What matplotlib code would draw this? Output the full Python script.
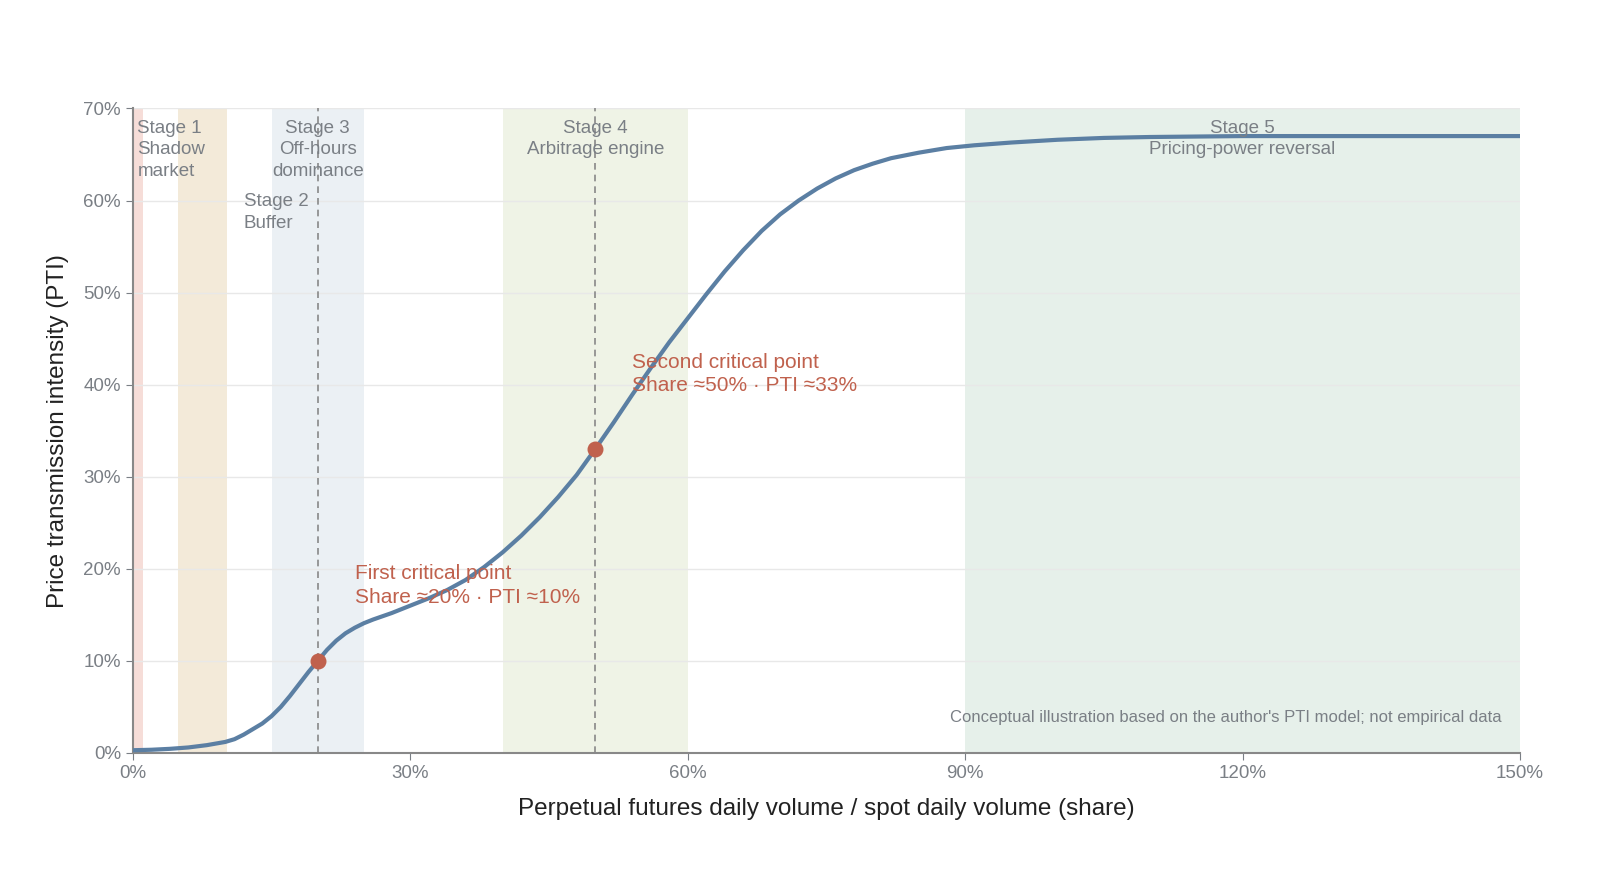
import matplotlib
matplotlib.use("Agg")
import matplotlib.pyplot as plt
import numpy as np

plt.rcParams['font.family'] = ['Liberation Sans', 'DejaVu Sans']

share = [0, 2, 4, 6, 8, 10, 11, 12, 13, 14, 15, 16, 17, 18, 19, 20, 21, 22, 23, 24, 25, 26, 28, 30, 32, 34, 36, 38, 40, 42, 44, 46, 48, 50, 52, 54, 56, 58, 60, 62, 64, 66, 68, 70, 72, 74, 76, 78, 80, 82, 85, 88, 91, 95, 100, 105, 110, 120, 135, 150]
pti = [0.3, 0.35, 0.45, 0.6, 0.85, 1.2, 1.5, 2.0, 2.6, 3.2, 4.0, 5.0, 6.2, 7.5, 8.8, 10.0, 11.2, 12.2, 13.0, 13.6, 14.1, 14.5, 15.2, 16.0, 16.8, 17.7, 18.8, 20.2, 21.8, 23.6, 25.6, 27.8, 30.2, 33.0, 35.9, 38.9, 41.8, 44.6, 47.2, 49.8, 52.3, 54.6, 56.7, 58.5, 60.0, 61.3, 62.4, 63.3, 64.0, 64.6, 65.2, 65.7, 66.0, 66.3, 66.6, 66.8, 66.9, 67.0, 67.0, 67.0]

bands = [(0, 1.1, '#f6ddd8'), (4.9, 10.2, '#f3ead9'), (15, 25, '#ebf0f4'), (40, 60, '#eff3e6'), (90, 150, '#e6f0ea')]
stage_labels = [(0.5, "Stage 1\nShadow\nmarket", 'left'), (20, "Stage 3\nOff-hours\ndominance", 'center'),
                (50, "Stage 4\nArbitrage engine", 'center'), (120, "Stage 5\nPricing-power reversal", 'center')]
critical_x = [20, 50]
critical_y = [10, 33]

fig = plt.figure(figsize=(16, 8.89), dpi=100)
ax = fig.add_axes([0.083, 0.153, 0.867, 0.725])
for a, b, c in bands:
    ax.axvspan(a, b, color=c, zorder=0, lw=0)
for y in range(10, 80, 10):
    ax.axhline(y, color='#e8e8e8', lw=1, zorder=0.5)
for x in critical_x:
    ax.axvline(x, color='#888888', ls=(0, (4, 3)), lw=1.2, zorder=1)
ax.plot(share, pti, color='#5b7fa3', lw=3, zorder=3, solid_capstyle='round', solid_joinstyle='round')
ax.scatter(critical_x, critical_y, s=110, color='#c0614d', zorder=4)

gray = '#7a7f85'
for x, t, ha in stage_labels:
    ax.text(x, 68.8, t, ha=ha, va='top', fontsize=13.5, color=gray, linespacing=1.35)
ax.text(12, 60.8, "Stage 2\nBuffer", ha='left', va='top', fontsize=13.5, color=gray, linespacing=1.35)
red = '#c0614d'
ax.text(24, 16.3, "First critical point\nShare ≈20% · PTI ≈10%", fontsize=15, color=red, linespacing=1.3)
ax.text(54, 39.3, "Second critical point\nShare ≈50% · PTI ≈33%", fontsize=15, color=red, linespacing=1.3)
ax.text(148, 3.9, "Conceptual illustration based on the author's PTI model; not empirical data",
        ha='right', va='center', fontsize=12, color=gray)

ax.set_xlim(0, 150)
ax.set_ylim(0, 70)
ax.set_xticks(range(0, 151, 30))
ax.set_xticklabels([f"{v}%" for v in range(0, 151, 30)])
ax.set_yticks(range(0, 71, 10))
ax.set_yticklabels([f"{v}%" for v in range(0, 71, 10)])
ax.tick_params(colors=gray, labelsize=13.5, length=5, labelcolor=gray)
for s in ['top', 'right']:
    ax.spines[s].set_visible(False)
for s in ['left', 'bottom']:
    ax.spines[s].set_color('#888888')
    ax.spines[s].set_linewidth(1.5)
ax.set_xlabel("Perpetual futures daily volume / spot daily volume (share)", fontsize=17.5, color='#222222', labelpad=12)
ax.set_ylabel("Price transmission intensity (PTI)", fontsize=17.5, color='#222222', labelpad=10)
fig.savefig("out.png", dpi=100, facecolor='white')
